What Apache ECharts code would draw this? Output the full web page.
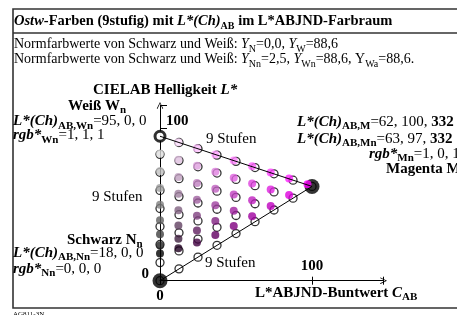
<!DOCTYPE html>
<html>
<head>
<meta charset="utf-8">
<script src="https://cdn.jsdelivr.net/npm/echarts@6/dist/echarts.min.js"></script>
<style>
  html, body { margin: 0; padding: 0; background: #fff; }
  #chart { width: 457px; height: 315px; }
</style>
</head>
<body>
<div id="chart"></div>
<script>
// Ostwald-Dreieck Magenta, 9 Stufen: Buntwert C_AB (x) gegen Helligkeit L* (y)

// Buntwert je Spalte (Stufe 0..8), Sollwert (offene Kreise) und Istwert (farbige Punkte)
const chromaIdeal = [0, 12.5, 25, 37.5, 50, 62.5, 75, 87.5, 100];
const chromaShown = [0, 12.1, 24.3, 36.4, 48.5, 60.6, 72.8, 84.9, 97];

// Helligkeit je Spalte, von oben (weisslich) nach unten (schwaerzlich)
const lightIdeal = [
  [95, 83.1, 71.3, 59.4, 47.5, 35.6, 23.8, 11.9, 0],
  [90.9, 79.0, 67.1, 55.3, 43.4, 31.5, 19.6, 7.8],
  [86.8, 74.9, 63.0, 51.1, 39.3, 27.4, 15.5],
  [82.6, 70.8, 58.9, 47.0, 35.1, 23.3],
  [78.5, 66.6, 54.8, 42.9, 31.0],
  [74.4, 62.5, 50.6, 38.8],
  [70.3, 58.4, 46.5],
  [66.1, 54.3],
  [62.0]
];
const lightShown = [
  [95, 83.5, 72.1, 60.9, 50.0, 39.7, 30.5, 23.2, 17.9],
  [91.1, 79.5, 68.2, 57.2, 46.4, 36.3, 27.6, 21.4],
  [87.1, 75.6, 64.3, 53.3, 42.8, 33.1, 25.1],
  [83.0, 71.7, 60.5, 49.6, 39.3, 30.1],
  [79.1, 67.7, 56.7, 46.0, 35.9],
  [75.2, 63.9, 52.9, 42.4],
  [71.2, 60.0, 49.2],
  [67.2, 56.3],
  [63.4]
];

// Dreieckskanten und Eckpunkte
const edgeTop = [[0, 95], [100, 62]];
const edgeBottom = [[0, 0], [100, 62]];
const whitePoint = [0, 95];
const bigDots = [[0, 0], [100, 62]];

const steps = 8;
const FF = '"Liberation Serif","Times New Roman",serif';

// rgb* der Ostwald-Mischung: w*W + c*M  (i = Schwarzstufe, j = Buntstufe)
function mixColour(i, j) {
  const w = (steps - i - j) / steps, c = j / steps;
  const r = Math.round(255 * (w + c)), g = Math.round(255 * w);
  return 'rgb(' + r + ',' + g + ',' + r + ')';
}

const openData = [];
chromaIdeal.forEach((c, j) => lightIdeal[j].forEach(l => openData.push([c, l])));
const shownData = [];
chromaShown.forEach((c, j) => lightShown[j].forEach((l, i) => {
  shownData.push({ value: [c, l], itemStyle: { color: mixColour(i, j) } });
}));

function richSet(size) {
  const sub = Math.round(size * 0.72);
  return {
    n: { font: size + 'px ' + FF, lineHeight: 20 },
    i: { font: 'italic ' + size + 'px ' + FF, lineHeight: 20 },
    b: { font: 'bold ' + size + 'px ' + FF, lineHeight: 20 },
    bi: { font: 'italic bold ' + size + 'px ' + FF, lineHeight: 20 },
    s: { font: sub + 'px ' + FF, lineHeight: sub, verticalAlign: 'bottom' },
    bs: { font: 'bold ' + sub + 'px ' + FF, lineHeight: sub, verticalAlign: 'bottom' }
  };
}
function txt(x, y, text, size) {
  return {
    type: 'text', x: x, y: y, silent: true,
    style: { text: text, rich: richSet(size || 15), fill: '#000', align: 'left', verticalAlign: 'middle' }
  };
}

const arrowPath = 'path://M0,10 L5,0 L10,10 L9,10.8 L5,2.4 L1,10.8 Z';
const labelFont = { fontFamily: FF, fontWeight: 'bold', fontSize: 15, color: '#000' };

const chart = echarts.init(document.getElementById('chart'), null, { renderer: 'canvas' });
chart.setOption({
  animation: false,
  backgroundColor: '#fff',
  grid: { left: 160, top: 105.4, width: 223.5, height: 175.3, outerBoundsMode: 'none' },
  xAxis: [
    {
      type: 'value', min: 0, max: 147, interval: 100, position: 'bottom',
      axisLine: { show: true, onZero: false, lineStyle: { color: '#000', width: 1 },
        symbol: ['none', arrowPath], symbolSize: [10, 7] },
      axisTick: { show: true, length: 4, lineStyle: { color: '#000' } },
      axisLabel: Object.assign({ margin: 8, formatter: v => (v === 0 ? '0' : '') }, labelFont),
      splitLine: { show: false }
    },
    {
      type: 'value', min: 0, max: 147, interval: 100, position: 'bottom',
      axisLine: { show: false, onZero: false },
      axisTick: { show: true, inside: true, length: 4, lineStyle: { color: '#000' } },
      axisLabel: Object.assign({ inside: true, margin: 7, formatter: v => (v === 100 ? '100' : '') }, labelFont),
      splitLine: { show: false }
    }
  ],
  yAxis: [
    {
      type: 'value', min: 0, max: 115.3, interval: 100, position: 'left',
      axisLine: { show: true, onZero: false, lineStyle: { color: '#000', width: 1 },
        symbol: ['none', arrowPath], symbolSize: [9, 7] },
      axisTick: { show: true, inside: true, length: 7, lineStyle: { color: '#000' } },
      axisLabel: Object.assign({ margin: 11, verticalAlign: 'bottom', lineHeight: 14,
        formatter: v => (v === 0 ? '0' : '') }, labelFont),
      splitLine: { show: false }
    },
    {
      type: 'value', min: 0, max: 115.3, interval: 100, position: 'left',
      axisLine: { show: false, onZero: false },
      axisTick: { show: false },
      axisLabel: Object.assign({ inside: true, margin: 6, verticalAlign: 'bottom',
        formatter: v => (v === 100 ? '100' : '') }, labelFont),
      splitLine: { show: false }
    }
  ],
  series: [
    { type: 'line', data: edgeTop, symbol: 'none', silent: true, lineStyle: { color: '#000', width: 1 } },
    { type: 'line', data: edgeBottom, symbol: 'none', silent: true, lineStyle: { color: '#000', width: 1 } },
    { type: 'scatter', data: openData, symbolSize: 8, silent: true,
      itemStyle: { color: 'rgba(0,0,0,0)', borderColor: '#000', borderWidth: 1.3 } },
    { type: 'scatter', data: bigDots, symbolSize: 15, silent: true, itemStyle: { color: '#000' } },
    { type: 'scatter', data: shownData, symbolSize: 8, silent: true },
    { type: 'scatter', data: [whitePoint], symbolSize: 10, silent: true,
      itemStyle: { color: '#fff', borderColor: '#000', borderWidth: 3 } }
  ],
  graphic: [
    { type: 'rect', silent: true, shape: { x: 13, y: 9, width: 470, height: 299 },
      style: { fill: 'none', stroke: '#333', lineWidth: 1.6 } },
    { type: 'line', silent: true, shape: { x1: 13, y1: 33, x2: 470, y2: 33 },
      style: { stroke: '#333', lineWidth: 1.6 } },
    txt(14, 21.5, '{bi|Ostw}{b|-Farben (9stufig) mit }{bi|L*(Ch)}{bs|AB}{b| im L*ABJND-Farbraum}', 14.5),
    txt(14, 44, '{n|Normfarbwerte von Schwarz und Weiß: }{i|Y}{s|N}{n|=0,0, }{i|Y}{s|W}{n|=88,6}', 14),
    txt(14, 59.5, '{n|Normfarbwerte von Schwarz und Weiß: }{i|Y}{s|Nn}{n|=2,5, }{i|Y}{s|Wn}{n|=88,6, Y}{s|Wa}{n|=88,6.}', 14),
    txt(93, 90, '{b|CIELAB Helligkeit }{bi|L*}'),
    txt(68, 106, '{b|Weiß W}{bs|n}'),
    txt(13, 121.5, '{bi|L*(Ch)}{bs|AB,Wn}{n|=95, 0, 0}'),
    txt(13, 135.5, '{bi|rgb*}{bs|Wn}{n|=1, 1, 1}'),
    txt(206, 139.5, '{n|9 Stufen}'),
    txt(297, 122, '{bi|L*(Ch)}{bs|AB,M}{n|=62, 100, }{b|332}'),
    txt(297, 139, '{bi|L*(Ch)}{bs|AB,Mn}{n|=63, 97, }{b|332}'),
    txt(369, 154, '{bi|rgb*}{bs|Mn}{n|=1, 0, 1}'),
    txt(386, 169, '{b|Magenta M}'),
    txt(92, 197, '{n|9 Stufen}'),
    txt(67, 240, '{b|Schwarz N}{bs|n}'),
    txt(13, 253, '{bi|L*(Ch)}{bs|AB,Nn}{n|=18, 0, 0}'),
    txt(13, 269, '{bi|rgb*}{bs|Nn}{n|=0, 0, 0}'),
    txt(205, 263, '{n|9 Stufen}'),
    txt(255, 293, '{b|L*ABJND-Buntwert }{bi|C}{bs|AB}'),
    { type: 'text', x: 13, y: 311, silent: true,
      style: { text: 'AG811-3N', font: '7px ' + FF, fill: '#000', verticalAlign: 'top' } }
  ]
});
</script>
</body>
</html>
